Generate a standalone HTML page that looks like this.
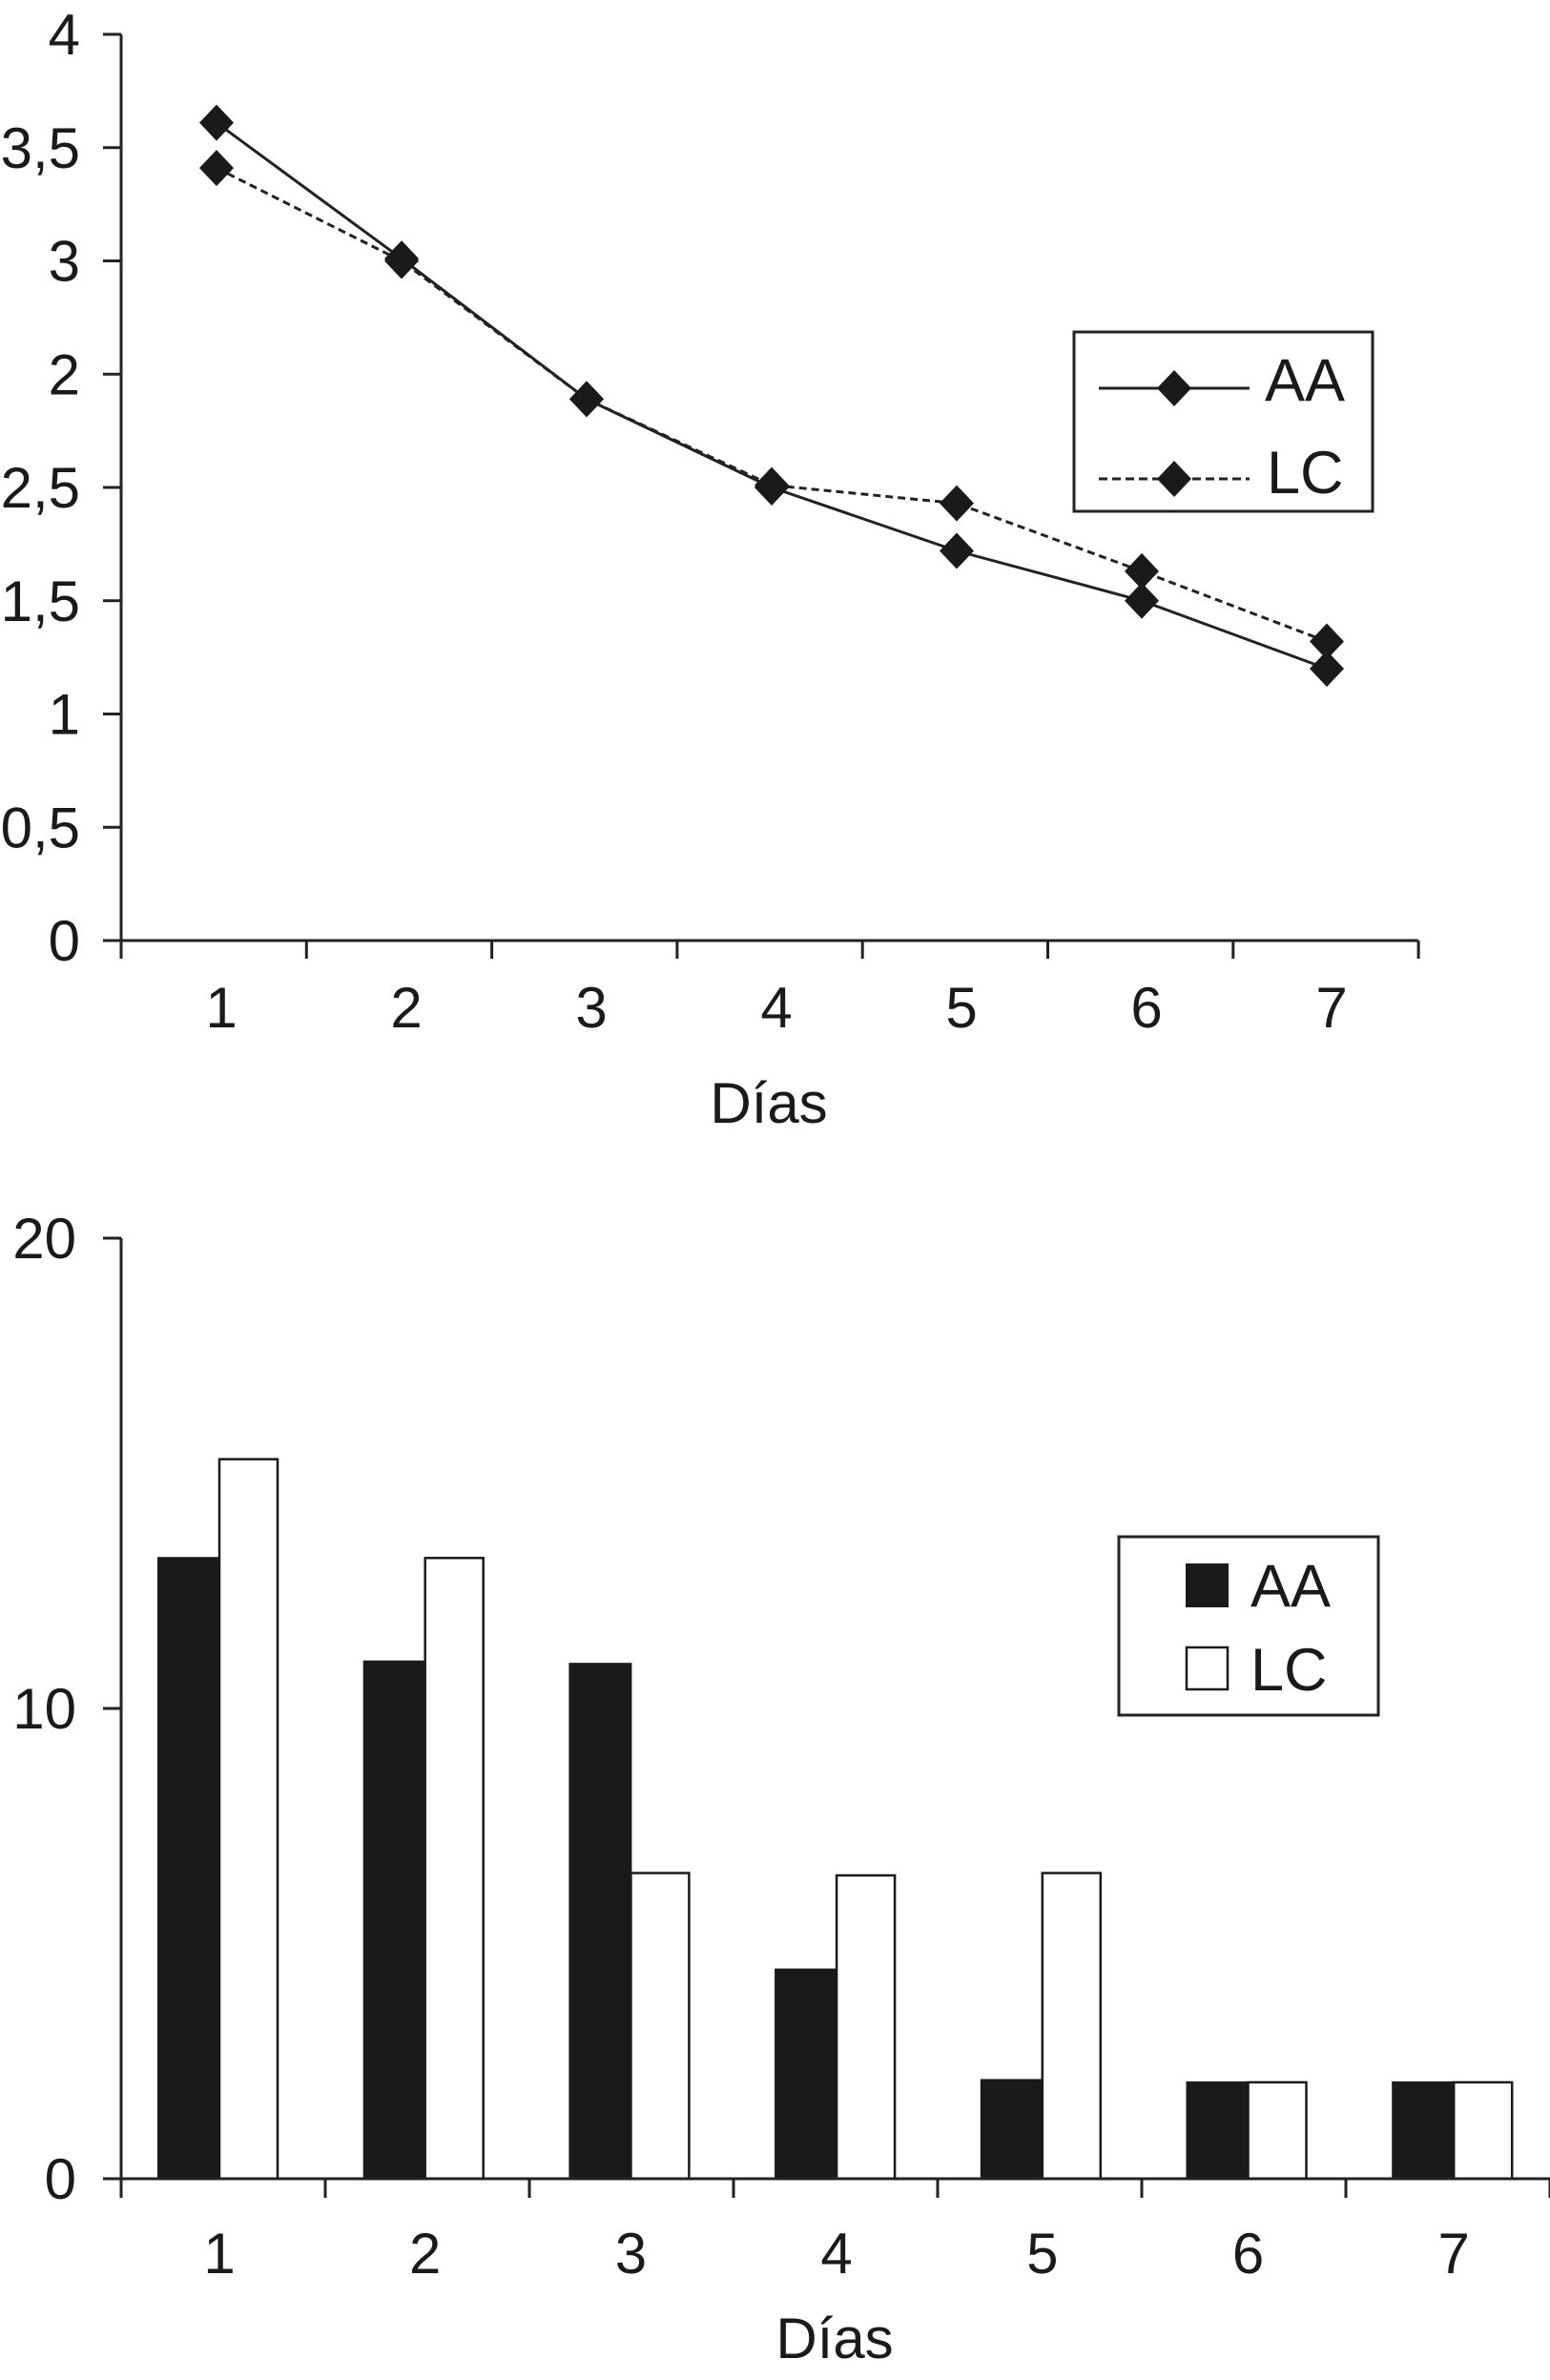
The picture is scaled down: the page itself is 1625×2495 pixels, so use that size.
<!DOCTYPE html>
<html><head><meta charset="utf-8"><style>
html,body{margin:0;padding:0;background:#fff;}
svg{display:block;}
text{font-family:"Liberation Sans",sans-serif;fill:#1a1a1a;}
</style></head><body>
<svg id="chart" width="1625" height="2495" viewBox="0 0 1625 2495" xmlns="http://www.w3.org/2000/svg"></svg>
<script>
// Top line chart data
const lineDays = ["1","2","3","4","5","6","7"];
const lineAA = [3.61, 3.01, 2.39, 2.0, 1.72, 1.50, 1.20];
const lineLC = [3.41, 3.0, 2.39, 2.01, 1.93, 1.63, 1.32];
const lineTickValues = [4, 3.5, 3, 2.5, 2, 1.5, 1, 0.5, 0];
const lineTickLabels = ["4","3,5","3","2","2,5","1,5","1","0,5","0"];
// Bottom bar chart data
const barDays = ["1","2","3","4","5","6","7"];
const barAA = [13.2, 11.0, 10.95, 4.45, 2.1, 2.05, 2.05];
const barLC = [15.3, 13.2, 6.5, 6.45, 6.5, 2.05, 2.05];
const barTickValues = [20, 10, 0];
const barTickLabels = ["20","10","0"];

const NS = "http://www.w3.org/2000/svg";
const svg = document.getElementById('chart');
function mk(tag, attrs, parent){const e=document.createElementNS(NS,tag);for(const k in attrs)e.setAttribute(k,attrs[k]);(parent||svg).appendChild(e);return e;}
const FS = 60;

// ---------- TOP CHART ----------
const tY = v => 986 - v*237.5;
const tX = i => 227 + i*194;
const g1 = mk('g',{});


let e = mk('line',{x1:127,y1:tY(4),x2:127,y2:986,stroke:'#222','stroke-width':3},g1);


e = mk('line',{x1:127,y1:986,x2:1487,y2:986,stroke:'#222','stroke-width':3},g1);


lineTickValues.forEach((v,k)=>{
  mk('line',{x1:108,y1:tY(v),x2:127,y2:tY(v),stroke:'#222','stroke-width':3},g1);
  const t = mk('text',{x:84,y:tY(v)+21,'text-anchor':'end','font-size':FS},g1);
  t.textContent = lineTickLabels[k];
  
  
});
for(let k=0;k<=7;k++){const x=127+k*194.3;mk('line',{x1:x,y1:986,x2:x,y2:1005,stroke:'#222','stroke-width':3},g1);}
lineDays.forEach((d,i)=>{
  const t = mk('text',{x:tX(i)+5,y:1077,'text-anchor':'middle','font-size':FS},g1);
  t.textContent = d;
  
  
});
e = mk('text',{x:806,y:1177,'text-anchor':'middle','font-size':FS},g1);
e.textContent='Días';


function diamond(cx,cy,parent){return mk('path',{d:`M${cx} ${cy-19}L${cx+18} ${cy}L${cx} ${cy+19}L${cx-18} ${cy}Z`,fill:'#1a1a1a'},parent);}
e = mk('polyline',{points:lineLC.map((v,i)=>tX(i)+','+tY(v)).join(' '),fill:'none',stroke:'#222','stroke-width':3,'stroke-dasharray':'8,5'},g1);


e = mk('polyline',{points:lineAA.map((v,i)=>tX(i)+','+tY(v)).join(' '),fill:'none',stroke:'#222','stroke-width':3},g1);


lineLC.forEach((v,i)=>{const d=diamond(tX(i),tY(v),g1);
  
  });
lineAA.forEach((v,i)=>{const d=diamond(tX(i),tY(v),g1);
  
  });
// legend top
const lg1 = mk('g',{},g1);


mk('rect',{x:1126,y:348,width:313,height:188,fill:'#fff',stroke:'#222','stroke-width':3},lg1);
mk('line',{x1:1152,y1:407,x2:1310,y2:407,stroke:'#222','stroke-width':3},lg1);
diamond(1231,407,lg1);
e = mk('text',{x:1326,y:420,'font-size':63},lg1); e.textContent='AA';


mk('line',{x1:1152,y1:502,x2:1310,y2:502,stroke:'#222','stroke-width':3,'stroke-dasharray':'9,5'},lg1);
diamond(1231,502,lg1);
e = mk('text',{x:1328,y:517,'font-size':63},lg1); e.textContent='LC';



// ---------- BOTTOM CHART ----------
const bY = v => 2284 - v*49.3;
const bX = i => 166 + i*215.7;
const bw = 64;
const g2 = mk('g',{});


barAA.forEach((v,i)=>{const r=mk('rect',{x:bX(i),y:bY(v),width:bw,height:bY(0)-bY(v),fill:'#1a1a1a',stroke:'#1a1a1a','stroke-width':2},g2);
  
  });
barLC.forEach((v,i)=>{const r=mk('rect',{x:bX(i)+bw,y:bY(v),width:bw-3,height:bY(0)-bY(v),fill:'#fff',stroke:'#1a1a1a','stroke-width':2.5},g2);
  
  });
e = mk('line',{x1:127,y1:bY(20),x2:127,y2:bY(0),stroke:'#222','stroke-width':3},g2);


e = mk('line',{x1:127,y1:bY(0),x2:1625,y2:bY(0),stroke:'#222','stroke-width':3},g2);


barTickValues.forEach((v,k)=>{
  mk('line',{x1:108,y1:bY(v),x2:127,y2:bY(v),stroke:'#222','stroke-width':3},g2);
  const t = mk('text',{x:80,y:bY(v)+21,'text-anchor':'end','font-size':FS},g2);
  t.textContent = barTickLabels[k];
  
  
});
for(let k=0;k<=7;k++){const x=127+k*214;mk('line',{x1:x,y1:bY(0),x2:x,y2:bY(0)+20,stroke:'#222','stroke-width':3},g2);}
barDays.forEach((d,i)=>{
  const t = mk('text',{x:bX(i)+bw,y:2383,'text-anchor':'middle','font-size':FS},g2);
  t.textContent = d;
  
  
});
e = mk('text',{x:875,y:2472,'text-anchor':'middle','font-size':FS},g2);
e.textContent='Días';


const lg2 = mk('g',{},g2);


mk('rect',{x:1173,y:1611,width:272,height:187,fill:'#fff',stroke:'#222','stroke-width':3},lg2);
mk('rect',{x:1243,y:1639,width:45,height:46,fill:'#1a1a1a'},lg2);
e = mk('text',{x:1311,y:1684,'font-size':63},lg2); e.textContent='AA';


mk('rect',{x:1244,y:1727,width:43,height:44,fill:'#fff',stroke:'#1a1a1a','stroke-width':2.5},lg2);
e = mk('text',{x:1311,y:1772,'font-size':63},lg2); e.textContent='LC';


</script>
</body></html>
